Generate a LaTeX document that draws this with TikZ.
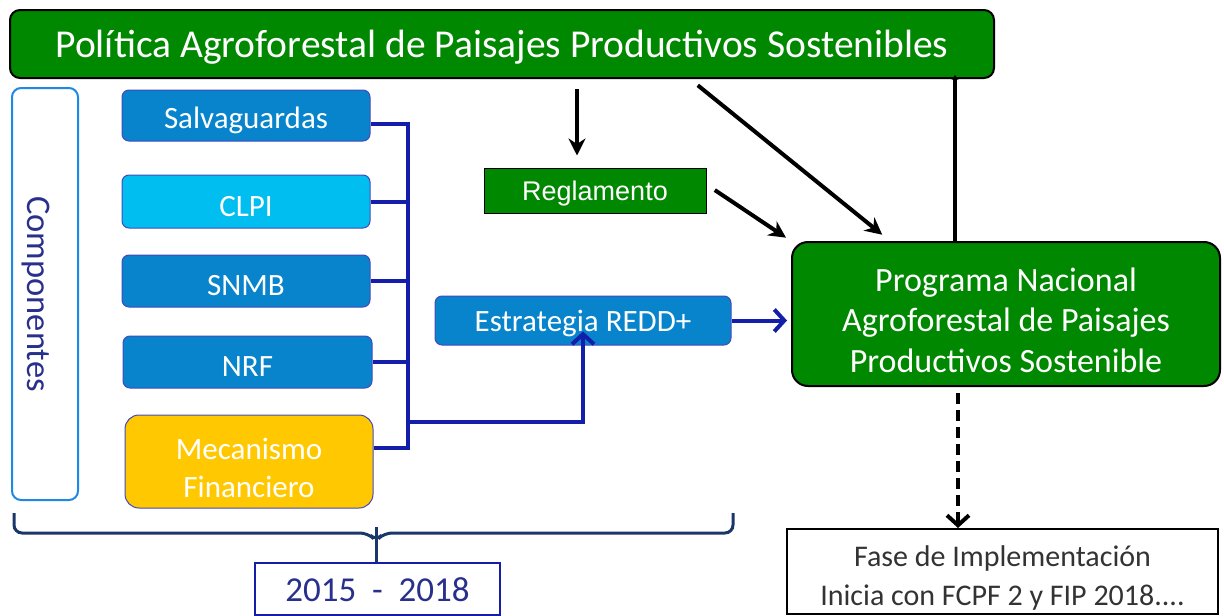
\documentclass[tikz,border=0pt]{standalone}
\usepackage{fontspec}
\setmainfont{Carlito}
\newfontfamily\arialf{Liberation Sans}
\usetikzlibrary{arrows.meta,calc}
\definecolor{tgreen}{RGB}{0,136,0}
\definecolor{tblue}{RGB}{8,132,204}
\definecolor{tlblue}{RGB}{0,190,240}
\definecolor{tyellow}{RGB}{255,200,0}
\definecolor{tnavy}{RGB}{20,30,170}
\definecolor{tbrace}{RGB}{27,55,105}
\definecolor{tcomp}{RGB}{30,136,229}
\definecolor{ttext}{RGB}{40,48,140}
\tikzset{
  box/.style={draw, inner sep=0pt},
  lbl/.style={inner sep=0pt, align=center, text=white},
  greenbox/.style={box, fill=tgreen, draw=black, line width=2pt, rounded corners=10pt},
  bluebox/.style={box, fill=tblue, draw=tnavy!80, line width=1pt, rounded corners=7pt},
  bluefont/.style={lbl, font=\fontsize{31}{34}\selectfont},
  navyline/.style={draw=tnavy, line width=4pt},
  blackarrow/.style={draw=black, line width=4pt, -{Stealth[length=17pt,width=17pt]}},
}
\begin{document}
\begin{tikzpicture}[x=1pt,y=-1pt]
\useasboundingbox (0,0) rectangle (1224,616);
% boxes
\node[greenbox, minimum width=984pt, minimum height=68pt] (top) at (502,44) {};
\node[box, draw=tcomp, fill=white, line width=2pt, rounded corners=9pt, minimum width=66pt, minimum height=412pt] (comp) at (45,294) {};
\node[bluebox, minimum width=248pt, minimum height=51pt] (salv) at (246,115.5) {};
\node[bluebox, fill=tlblue, minimum width=248pt, minimum height=53pt] (clpi) at (246,201.5) {};
\node[bluebox, minimum width=248pt, minimum height=52pt] (snmb) at (246,281) {};
\node[bluebox, minimum width=249pt, minimum height=52pt] (nrf) at (247.5,362) {};
\node[bluebox, fill=tyellow, rounded corners=14pt, minimum width=248pt, minimum height=93pt] (mec) at (249,461.5) {};
\node[bluebox, minimum width=296pt, minimum height=49pt] (estr) at (583,320.5) {};
\node[box, fill=tgreen, draw=black, line width=1pt, minimum width=222pt, minimum height=45pt] (regl) at (595,190.5) {};
\node[greenbox, minimum width=428pt, minimum height=144pt, rounded corners=16pt] (prog) at (1006,314) {};
\node[box, fill=white, draw=black, line width=2pt, minimum width=431pt, minimum height=85pt] (fase) at (1002.5,571.5) {};
\node[box, fill=white, draw=tnavy, line width=2.5pt, minimum width=245pt, minimum height=52pt] (yrs) at (377.5,589) {};
% texts
\node[lbl, font=\fontsize{39.5}{42}\selectfont] (topt) at ([yshift=-3pt]top.center) {Política Agroforestal de Paisajes Productivos Sostenibles};
\node[lbl, text=ttext, rotate=-90, font=\fontsize{34.5}{36}\selectfont] (compt) at ([xshift=-9pt]comp.center) {Componentes};
\node[bluefont] (salvt) at ([yshift=-5pt]salv.center) {Salvaguardas};
\node[bluefont] (clpit) at ([yshift=-5pt]clpi.center) {CLPI};
\node[bluefont] (snmbt) at ([yshift=-5pt]snmb.center) {SNMB};
\node[bluefont] (nrft) at ([yshift=-5pt]nrf.center) {NRF};
\node[bluefont, font=\fontsize{31}{38}\selectfont] (mect) at ([yshift=-6pt]mec.center) {Mecanismo\\Financiero};
\node[bluefont] (estrt) at ([yshift=-3pt]estr.center) {Estrategia REDD+};
\node[lbl, font=\arialf\fontsize{27}{30}\selectfont] (reglt) at ([yshift=-3pt]regl.center) {Reglamento};
\node[lbl, font=\fontsize{34}{40.5}\selectfont] (progt) at ([yshift=-6pt]prog.center) {Programa Nacional\\Agroforestal de Paisajes\\Productivos Sostenible};
\node[lbl, text=black!80, font=\fontsize{30}{39}\selectfont] (faset) at ([yshift=-6pt]fase.center) {Fase de Implementación\\Inicia con FCPF 2 y FIP 2018....};
\node[lbl, text=ttext, font=\fontsize{35}{38}\selectfont] (yrst) at ([yshift=-1pt]yrs.center) {2015 \ - \ 2018};
% bracket connectors
\coordinate (bus1) at (408,124);
\coordinate (bus2) at (408,448);
\coordinate (busb) at (408,422);
\draw[navyline] (salv.east |- bus1) -- (bus1) -- (bus2) -- (mec.east |- bus2);
\draw[navyline] (clpi.east) -- (clpi.east -| bus1);
\draw[navyline] (snmb.east) -- (snmb.east -| bus1);
\draw[navyline] (nrf.east) -- (nrf.east -| bus1);
\draw[navyline, -{Straight Barb[length=10pt,width=22pt,line width=4pt]}, line join=miter] (busb) -- (busb -| estr.south) -- ([yshift=14pt]estr.south);
\draw[navyline, -{Straight Barb[length=10pt,width=22pt,line width=4pt]}] (estr.east) -- ([xshift=-4pt]prog.west |- estr.east);
% black arrows
\draw[blackarrow, shorten <=10pt, shorten >=12pt] (top.south -| 577,0) -- (regl.north -| 577,0);
\draw[blackarrow, shorten <=10pt, shorten >=10pt] (top.south -| 690,0) -- (prog.north -| 890,0);
\draw[blackarrow, shorten <=10pt, shorten >=6pt] ([yshift=6pt]regl.east) -- (prog.north west);
\draw[draw=black, line width=3.5pt, -{Stealth[length=5pt,width=7pt]}] (prog.north -| 955,0) -- ([yshift=4pt]top.south -| 955,0);
\draw[draw=black, line width=4pt, dash pattern=on 11pt off 6pt, shorten <=6pt, -{Straight Barb[length=10pt,width=22pt,line width=4pt]}] (prog.south -| 958,0) -- (fase.north -| 958,0);
% brace
\coordinate (bm) at (376,533);
\draw[draw=tbrace, line width=3pt, rounded corners=8pt] (14,513) -- (14,533) -- (368,533) -- (376,541) -- (384,533) -- (733,533) -- (733,513);
\draw[draw=tbrace, line width=3pt] ([yshift=6pt]bm) -- (yrs.north -| bm);
\end{tikzpicture}
\end{document}
